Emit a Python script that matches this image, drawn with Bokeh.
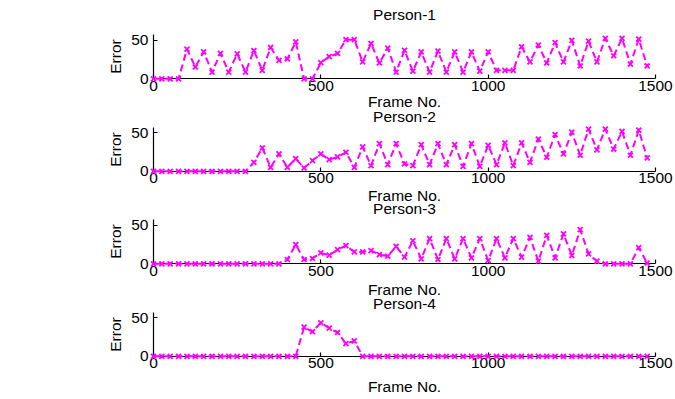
from bokeh.plotting import figure
from bokeh.models import Range1d, LinearAxis, FixedTicker, Label
from bokeh.embed import file_html
from bokeh.resources import INLINE

# ---- data: tracking error per person, sampled every 25 frames ----
frame_no = list(range(0, 1500, 25))

person_1 = [0, 0, 0, 0, 38.6, 15.4, 35, 8.8, 33, 8.8,
            32.5, 8.8, 36.8, 11, 40.8, 24, 26, 48, 0, 0,
            21, 29, 33, 51, 51, 22, 46, 20.6, 40, 8.8,
            37, 10, 35, 8.8, 36, 8.8, 35, 8.8, 35, 10,
            35, 11, 11, 11, 41.7, 22, 44, 20.6, 47, 22,
            50, 16.7, 49, 22, 52.6, 30, 52.6, 19, 51.8, 16.7]

person_2 = [0, 0, 0, 0, 0, 0, 0, 0, 0, 0,
            0, 0, 11.7, 30.4, 5.2, 22.6, 5.2, 16.5, 4.3, 14,
            22.6, 15.2, 18.7, 24.8, 5.2, 31.8, 7.4, 36, 8.7, 36,
            9.6, 7.4, 34.8, 8.7, 36, 8.7, 34.8, 6.5, 36, 6.5,
            33.9, 8.7, 37, 7.4, 37, 11.7, 42, 18.3, 47.9, 22.6,
            50.9, 20.9, 55, 28, 55, 29, 52, 20.9, 53.5, 17.4]

person_3 = [0, 0, 0, 0, 0, 0, 0, 0, 0, 0,
            0, 0, 0, 0, 0, 0, 5.6, 25, 5.6, 6.9,
            14.2, 11.2, 18.5, 23.7, 15.5, 15.5, 17.2, 12, 9.9, 22.8,
            8.6, 30, 6.5, 32.8, 5.6, 32.8, 6.5, 32.8, 7.8, 32.8,
            4.3, 32.8, 7.8, 32.8, 8.6, 34.5, 3.4, 37, 7.8, 39,
            10.8, 44.4, 12.9, 3.4, 0, 0, 0, 0, 21, 1]

person_4 = [0, 0, 0, 0, 0, 0, 0, 0, 0, 0,
            0, 0, 0, 0, 0, 0, 0, 0, 38, 32,
            43.7, 36.6, 31, 16.5, 20, 0, 0, 0, 0, 0,
            0, 0, 0, 0, 0, 0, 0, 0, 0, 0,
            0, 0, 0, 0, 0, 0, 0, 0, 0, 0,
            0, 0, 0, 0, 0, 0, 0, 0, 0, 0]

series = [person_1, person_2, person_3, person_4]
panel_titles = ["Person-1", "Person-2", "Person-3", "Person-4"]
x_ticks = [0, 500, 1000, 1500]
y_ticks = [0, 50]

# ---- layout (pixels) ----
W, H = 675, 399
X0_PX, X1500_PX = 153, 655             # columns of frame 0 and frame 1500
ZERO_ROWS = [78.3, 170.8, 263.3, 355.8]  # row of Error = 0 in each panel
PX_PER_ERR = 38.4 / 50
Y_AXIS_TOP = 57.5
TITLE_ABOVE = [64.0, 55.0, 55.0, 52.5]   # title centre above the zero row
XLABEL_EXTRA = [-1, 0, 2, 6]

FONT = "Liberation Sans"
FS = "15.5px"
MAGENTA = "#ff00ff"

px_per_frame = (X1500_PX - X0_PX) / 1500.0
x_range = Range1d(-X0_PX / px_per_frame, (W - X0_PX) / px_per_frame)


def panel_range(zero_row):
    return Range1d(-(H - zero_row) / PX_PER_ERR, zero_row / PX_PER_ERR)


ranges = {f"p{i}": panel_range(z) for i, z in enumerate(ZERO_ROWS)}

p = figure(width=W, height=H, x_range=x_range, y_range=panel_range(ZERO_ROWS[0]),
           output_backend="svg", toolbar_location=None,
           x_axis_location=None, y_axis_location=None, min_border=0)
p.extra_y_ranges = ranges
p.outline_line_color = None
p.background_fill_color = "white"
p.border_fill_color = "white"
for g in p.grid:
    g.visible = False

for i, (vals, title) in enumerate(zip(series, panel_titles)):
    name = f"p{i}"

    xaxis = LinearAxis(y_range_name=name, fixed_location=0, bounds=(0, 1500),
                       ticker=FixedTicker(ticks=x_ticks), axis_label="Frame No.")
    yaxis = LinearAxis(y_range_name=name, fixed_location=0, bounds=(0, Y_AXIS_TOP),
                       ticker=FixedTicker(ticks=y_ticks), axis_label="Error")
    for ax in (xaxis, yaxis):
        ax.axis_line_color = "black"
        ax.axis_line_width = 1.2
        ax.major_tick_line_color = "black"
        ax.major_tick_line_width = 1.2
        ax.major_tick_in = 4
        ax.major_tick_out = 0
        ax.minor_tick_in = 0
        ax.minor_tick_out = 0
        ax.major_label_text_font = FONT
        ax.major_label_text_font_size = FS
        ax.major_label_text_color = "black"
        ax.axis_label_text_font = FONT
        ax.axis_label_text_font_size = FS
        ax.axis_label_text_font_style = "normal"
        ax.axis_label_text_color = "black"
    xaxis.major_label_standoff = 2
    xaxis.axis_label_standoff = XLABEL_EXTRA[i]
    yaxis.major_label_standoff = 5
    yaxis.axis_label_standoff = 4
    p.add_layout(xaxis, "below")
    p.add_layout(yaxis, "left")

    p.line(frame_no, vals, y_range_name=name, line_color=MAGENTA,
           line_width=2, line_dash="7 4", level="overlay")
    p.scatter(frame_no, vals, y_range_name=name, marker="x", size=7,
              line_color=MAGENTA, line_width=1.8, level="overlay")

    p.add_layout(Label(x=750, y=TITLE_ABOVE[i] / PX_PER_ERR, y_range_name=name,
                       text=title, text_align="center", text_baseline="middle",
                       text_font=FONT, text_font_size=FS, text_color="black"))

open("out.html", "w").write(file_html(p, INLINE))
